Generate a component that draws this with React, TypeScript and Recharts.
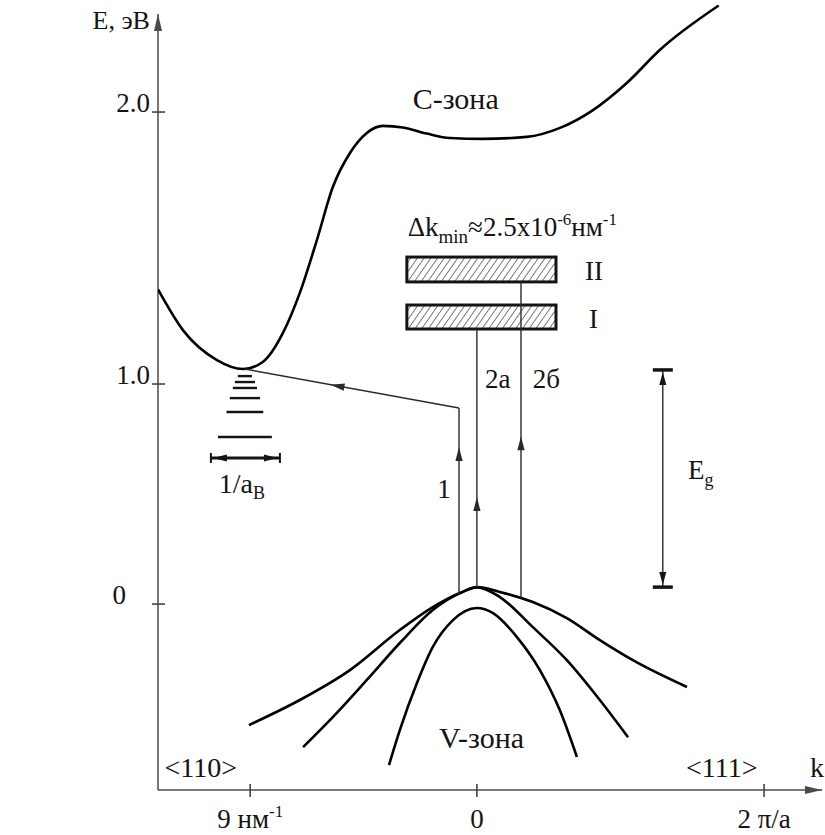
import React from 'react';
import { ComposedChart, Line, XAxis, YAxis, ReferenceLine, ReferenceArea, ReferenceDot } from 'recharts';

const FONT = "'Liberation Serif', 'DejaVu Serif', serif";
const INK = '#141414';

// ---- axes (k in nm^-1 toward <110> negative, toward <111> positive; E in eV, schematic) ----
const kDomain: [number, number] = [-12.66, 13.7];
const eDomain: [number, number] = [-0.845, 2.727];
const eAxisTop = 2.682;

const yTickValues = [0, 1.0, 2.236];
const yTickLabels = ['0', '1.0', '2.0'];
const xTickValues = [-9, 0, 11.4];
const xTickLabels = ['9 нм', '0', '2 π/a'];
const xTickSups = ['-1', '', ''];

// ---- conduction band ----
const cBandK = [-12.66, -11.67, -10.32, -9.29, -8.5, -7.7, -7.03, -6.35, -5.72, -5.04, -4.37, -3.73, -2.94, -1.98, -1.07, 0.24, 1.98, 3.3, 4.61, 5.95, 7.26, 9.6];
const cBandE = [1.43, 1.245, 1.109, 1.068, 1.1, 1.232, 1.414, 1.655, 1.895, 2.05, 2.141, 2.173, 2.166, 2.138, 2.118, 2.114, 2.123, 2.164, 2.245, 2.368, 2.518, 2.72];

// ---- valence bands ----
const vOuterK = [-9.05, -7.03, -5.04, -3.06, -1.75, -0.67, 0, 0.91, 2.22, 3.57, 4.88, 6.19, 8.34];
const vOuterE = [-0.55, -0.436, -0.3, -0.118, -0.014, 0.05, 0.077, 0.055, 0.009, -0.064, -0.164, -0.255, -0.377];
const vMiddleK = [-6.9, -5.72, -4.37, -3.06, -1.75, -0.67, 0, 0.91, 2.22, 3.57, 4.88, 6.0];
const vMiddleE = [-0.65, -0.514, -0.345, -0.177, -0.027, 0.05, 0.075, 0.032, -0.105, -0.255, -0.436, -0.605];
const vInnerK = [-3.49, -3.06, -2.38, -1.75, -0.95, 0, 0.64, 1.59, 2.5, 3.29, 3.97];
const vInnerE = [-0.732, -0.573, -0.359, -0.195, -0.073, -0.018, -0.041, -0.15, -0.3, -0.482, -0.695];

// ---- exciton levels under the C-band minimum ----
const excitonK = -9.21;
const excitonLevelE = [1.036, 1.009, 0.982, 0.936, 0.873, 0.759];
const excitonLevelHalfK = [0.28, 0.4, 0.48, 0.6, 0.73, 1.07];
const bohrBarE = 0.664;
const bohrBarK = [-10.56, -7.82];

// ---- transitions ----
const transitions = [
  { id: '1', k1: -0.71, e1: 0.045, k2: -0.71, e2: 0.891, tip: 0.79 },
  { id: '1x', k1: -0.71, e1: 0.891, k2: -9.21, e2: 1.068, tip: 0.6 },
  { id: '2a', k1: 0, e1: 0.075, k2: 0, e2: 1.25, tip: 0.35 },
  { id: '2b', k1: 1.75, e1: 0.032, k2: 1.75, e2: 1.464, tip: 0.51 },
];

// ---- photon-state boxes I and II ----
const boxK = [-2.78, 3.14];
const boxII = [1.464, 1.577];
const boxI = [1.25, 1.359];

// ---- band gap marker ----
const egK = 7.38;
const egE = [0.077, 1.064];

const rows = (ks: number[], es: number[]) => ks.map((k, i) => ({ k, e: es[i] }));
const cBand = rows(cBandK, cBandE);
const vOuter = rows(vOuterK, vOuterE);
const vMiddle = rows(vMiddleK, vMiddleE);
const vInner = rows(vInnerK, vInnerE);

const arrowShape = (t: number, color = '#2a2a2a', w = 1.4, L = 14, H = 3.6) => (p: any) => {
  const { x1, y1, x2, y2 } = p;
  const dx = x2 - x1, dy = y2 - y1;
  const len = Math.hypot(dx, dy) || 1;
  const ux = dx / len, uy = dy / len;
  const tx = x1 + dx * t, ty = y1 + dy * t;
  const bx = tx - ux * L, by = ty - uy * L;
  const px = -uy * H, py = ux * H;
  return (
    <g>
      <line x1={x1} y1={y1} x2={x2} y2={y2} stroke={color} strokeWidth={w} />
      <polygon points={`${tx},${ty} ${bx + px},${by + py} ${bx - px},${by - py}`} fill={color} />
    </g>
  );
};

const plainLine = (color: string, w: number) => (p: any) => (
  <line x1={p.x1} y1={p.y1} x2={p.x2} y2={p.y2} stroke={color} strokeWidth={w} />
);

const egShape = (p: any) => {
  const x = p.x1;
  const top = Math.min(p.y1, p.y2), bot = Math.max(p.y1, p.y2);
  return (
    <g>
      <line x1={x} y1={top} x2={x} y2={bot} stroke="#2a2a2a" strokeWidth={1.4} />
      <line x1={x - 10} y1={top} x2={x + 10} y2={top} stroke={INK} strokeWidth={3.5} />
      <line x1={x - 10} y1={bot} x2={x + 10} y2={bot} stroke={INK} strokeWidth={3.5} />
      <polygon points={`${x},${top + 2} ${x - 3.5},${top + 15} ${x + 3.5},${top + 15}`} fill={INK} />
      <polygon points={`${x},${bot - 2} ${x - 3.5},${bot - 15} ${x + 3.5},${bot - 15}`} fill={INK} />
    </g>
  );
};

const bohrShape = (p: any) => {
  const y = p.y1;
  const a = Math.min(p.x1, p.x2), b = Math.max(p.x1, p.x2);
  return (
    <g>
      <line x1={a} y1={y} x2={b} y2={y} stroke={INK} strokeWidth={3} />
      <line x1={a} y1={y - 5} x2={a} y2={y + 5} stroke={INK} strokeWidth={2} />
      <line x1={b} y1={y - 5} x2={b} y2={y + 5} stroke={INK} strokeWidth={2} />
      <polygon points={`${a + 2},${y} ${a + 16},${y - 3.5} ${a + 16},${y + 3.5}`} fill={INK} />
      <polygon points={`${b - 2},${y} ${b - 16},${y - 3.5} ${b - 16},${y + 3.5}`} fill={INK} />
    </g>
  );
};

const hatchBox = (p: any) => {
  const { x, y, width, height } = p;
  return (
    <g>
      <defs>
        <pattern id="hatch" patternUnits="userSpaceOnUse" width="5.5" height="10" patternTransform="rotate(35)">
          <line x1="0" y1="0" x2="0" y2="10" stroke="#222" strokeWidth="1.2" />
        </pattern>
      </defs>
      <rect x={x} y={y} width={width} height={height} fill="url(#hatch)" stroke={INK} strokeWidth={3} />
    </g>
  );
};

const textStyle = { fontFamily: FONT };

const textAt = (content: React.ReactNode, anchor: 'start' | 'middle' | 'end' = 'start', size = 27) => (p: any) => (
  <text x={p.cx} y={p.cy} textAnchor={anchor} fontFamily={FONT} style={textStyle} fontSize={size} fill={INK}>
    {content}
  </text>
);

const XTick = (p: any) => {
  const { x, y, index } = p;
  const sup = xTickSups[index];
  return (
    <g>
      <line x1={x} y1={y - 6} x2={x} y2={y + 7} stroke="#444" strokeWidth={1.6} />
      <text x={x} y={y + 38} textAnchor="middle" fontFamily={FONT} style={textStyle} fontSize={27} fill={INK}>
        {xTickLabels[index]}
        {sup ? <tspan dy={-11} fontSize={17}>{sup}</tspan> : null}
      </text>
    </g>
  );
};

const YTick = (p: any) => {
  const { x, y, index } = p;
  const lab = yTickLabels[index];
  const shift = lab.includes('.') ? 0 : -24;
  return (
    <g>
      <line x1={x - 6} y1={y} x2={x + 7} y2={y} stroke="#444" strokeWidth={1.6} />
      <text x={x - 8 + shift} y={y} textAnchor="end" fontFamily={FONT} style={textStyle} fontSize={27} fill={INK}>{lab}</text>
    </g>
  );
};

export default function App() {
  return (
    <div style={{ width: 825, height: 835, background: '#fff', fontFamily: FONT }}>
      <style>{'body{margin:0;overflow:hidden;background:#fff}'}</style>
      <ComposedChart width={825} height={835} margin={{ top: 4, right: 3, bottom: 0, left: 98 }} style={{ fontFamily: FONT }}>
        <XAxis type="number" dataKey="k" domain={kDomain} allowDataOverflow ticks={xTickValues} interval={0}
          axisLine={false} tickLine={false} tickSize={0} tickMargin={0} height={45} tick={<XTick />} />
        <YAxis type="number" domain={eDomain} allowDataOverflow ticks={yTickValues} interval={0}
          axisLine={false} tickLine={false} tickSize={0} tickMargin={0} width={60} tick={<YTick />} />

        {/* axes with arrows */}
        <ReferenceLine ifOverflow="visible" segment={[{ x: kDomain[0], y: eDomain[0] }, { x: kDomain[0], y: eAxisTop }]}
          shape={arrowShape(1, '#4a4a4a', 1.5, 17, 4)} />
        <ReferenceLine ifOverflow="visible" segment={[{ x: kDomain[0], y: eDomain[0] }, { x: kDomain[1], y: eDomain[0] }]}
          shape={arrowShape(1, '#4a4a4a', 1.5, 17, 4)} />

        {/* bands */}
        <Line data={cBand} dataKey="e" type="monotone" dot={false} stroke="#000" strokeWidth={2.6} isAnimationActive={false} />
        <Line data={vOuter} dataKey="e" type="monotone" dot={false} stroke="#000" strokeWidth={2.6} isAnimationActive={false} />
        <Line data={vMiddle} dataKey="e" type="monotone" dot={false} stroke="#000" strokeWidth={2.6} isAnimationActive={false} />
        <Line data={vInner} dataKey="e" type="monotone" dot={false} stroke="#000" strokeWidth={2.6} isAnimationActive={false} />

        {/* exciton levels */}
        {excitonLevelE.map((e, i) => (
          <ReferenceLine key={'lv' + i} ifOverflow="visible"
            segment={[{ x: excitonK - excitonLevelHalfK[i], y: e }, { x: excitonK + excitonLevelHalfK[i], y: e }]}
            shape={plainLine(INK, 2.4)} />
        ))}
        <ReferenceLine ifOverflow="visible" segment={[{ x: bohrBarK[0], y: bohrBarE }, { x: bohrBarK[1], y: bohrBarE }]} shape={bohrShape} />

        {/* boxes */}
        <ReferenceArea ifOverflow="visible" x1={boxK[0]} x2={boxK[1]} y1={boxII[0]} y2={boxII[1]} shape={hatchBox} />
        <ReferenceArea ifOverflow="visible" x1={boxK[0]} x2={boxK[1]} y1={boxI[0]} y2={boxI[1]} shape={hatchBox} />

        {/* transitions */}
        {transitions.map((t) => (
          <ReferenceLine key={t.id} ifOverflow="visible" segment={[{ x: t.k1, y: t.e1 }, { x: t.k2, y: t.e2 }]} shape={arrowShape(t.tip)} />
        ))}

        {/* band gap */}
        <ReferenceLine ifOverflow="visible" segment={[{ x: egK, y: egE[1] }, { x: egK, y: egE[0] }]} shape={egShape} />

        {/* labels */}
        <ReferenceDot ifOverflow="visible" x={-12.98} y={2.615} r={0} shape={textAt('E, эВ', 'end', 26)} />
        <ReferenceDot ifOverflow="visible" x={-2.55} y={2.25} r={0} shape={textAt('C-зона', 'start', 30)} />
        <ReferenceDot ifOverflow="visible" x={-2.75} y={1.672} r={0} shape={textAt(
          <>
            Δk<tspan dy={7} fontSize={19}>min</tspan><tspan dy={-7}>≈2.5x10</tspan><tspan dy={-11} fontSize={17}>-6</tspan><tspan dy={11}>нм</tspan><tspan dy={-11} fontSize={17}>-1</tspan>
          </>
        )} />
        <ReferenceDot ifOverflow="visible" x={4.29} y={1.473} r={0} shape={textAt('II')} />
        <ReferenceDot ifOverflow="visible" x={4.45} y={1.255} r={0} shape={textAt('I')} />
        <ReferenceDot ifOverflow="visible" x={0.32} y={0.982} r={0} shape={textAt('2a')} />
        <ReferenceDot ifOverflow="visible" x={2.22} y={0.982} r={0} shape={textAt('2б')} />
        <ReferenceDot ifOverflow="visible" x={-1.31} y={0.482} r={0} shape={textAt('1', 'middle')} />
        <ReferenceDot ifOverflow="visible" x={8.38} y={0.568} r={0} shape={textAt(
          <>E<tspan dy={7} fontSize={18}>g</tspan></>
        )} />
        <ReferenceDot ifOverflow="visible" x={-10.25} y={0.505} r={0} shape={textAt(
          <>1/a<tspan dy={6} fontSize={18}>B</tspan></>, 'start', 28
        )} />
        <ReferenceDot ifOverflow="visible" x={-1.5} y={-0.655} r={0} shape={textAt('V-зона', 'start', 30)} />
        <ReferenceDot ifOverflow="visible" x={-12.4} y={-0.786} r={0} shape={textAt('<110>', 'start', 28)} />
        <ReferenceDot ifOverflow="visible" x={8.3} y={-0.786} r={0} shape={textAt('<111>', 'start', 28)} />
        <ReferenceDot ifOverflow="visible" x={13.22} y={-0.786} r={0} shape={textAt('k', 'start', 28)} />
      </ComposedChart>
    </div>
  );
}
